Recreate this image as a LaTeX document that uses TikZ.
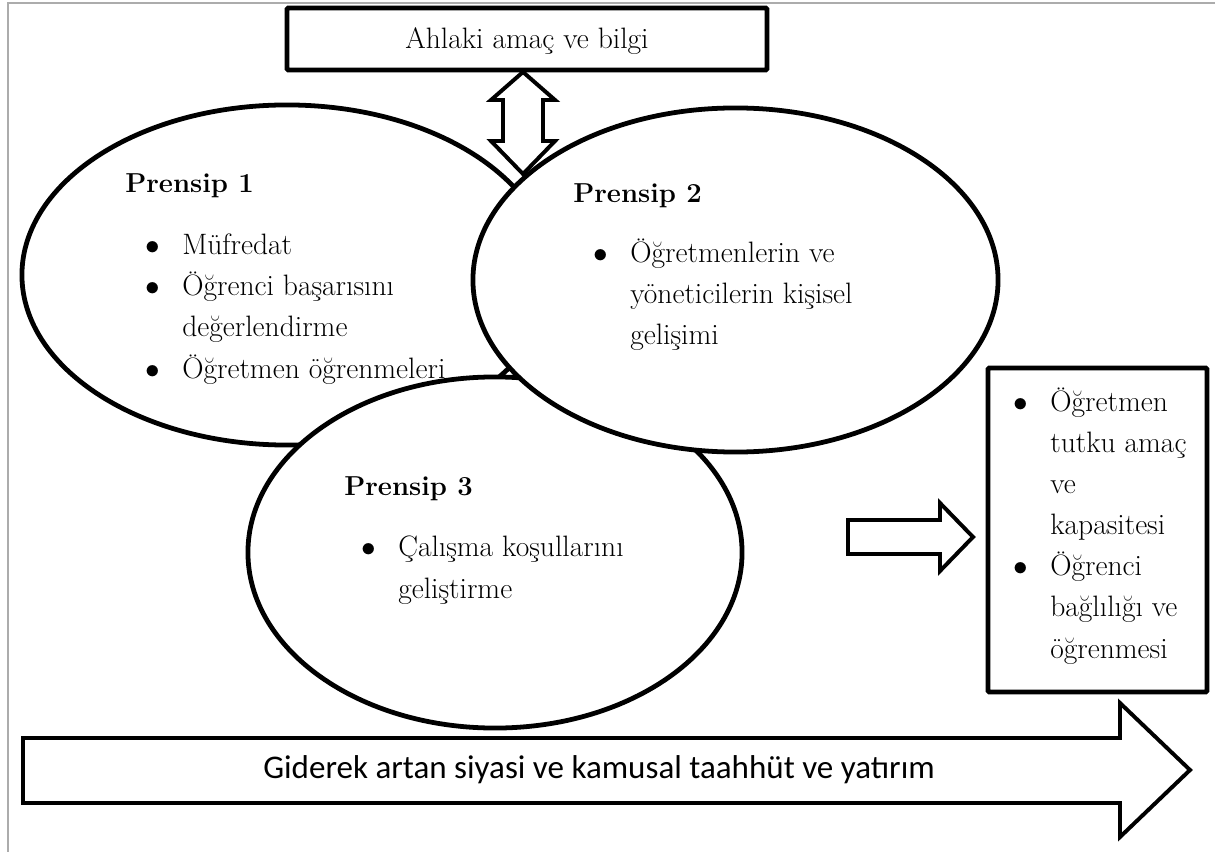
\documentclass[tikz,border=0pt]{standalone}
\usepackage{fontspec}
\newfontfamily\calibrifont{Carlito}
\usetikzlibrary{shapes.geometric}
\newcommand{\blt}{\llap{$\bullet$\hspace{0.75em}}}

\begin{document}
\begin{tikzpicture}[x=0.025cm,y=-0.025cm,
    every node/.style={font=\fontsize{21}{29.2}\selectfont},
    prensip/.style={ellipse,draw,fill=white,line width=3.4pt,inner sep=0pt},
    kutu/.style={rectangle,draw,line width=3.4pt,rounded corners=1pt,inner sep=0pt},
    blokok/.style={draw,fill=white,line width=2.8pt,line join=miter},
    liste/.style={anchor=base west,align=left,inner sep=0pt},
    baslik/.style={anchor=base west,inner sep=0pt,font=\fontsize{19.5}{29.2}\selectfont\bfseries}]
  \useasboundingbox (0,0) rectangle (1215,852);
  \draw[gray!65,line width=1.4pt] (8,852) -- (8,3) -- (1215,3);

  % the three principles
  \node[prensip,minimum width=13.25cm,minimum height=8.5cm] (p1) at (287,275) {};
  \node[prensip,minimum width=12.35cm,minimum height=8.775cm] (p3) at (495,552.5) {};
  \node[prensip,minimum width=13.125cm,minimum height=8.6cm] (p2) at (735.5,280) {};

  % moral purpose
  \node[kutu,minimum width=12cm,minimum height=1.55cm] (amac) at (527,39) {};
  \node[anchor=base,inner sep=0pt] (amactxt) at (527,49) {Ahlaki amaç ve bilgi};
  \draw[blokok] (523,72) -- (555,100) -- (543,100) -- (543,141) -- (555,141) -- (523,174)
    -- (491,141) -- (503,141) -- (503,100) -- (491,100) -- cycle;

  % last line baselines
  \node[baslik] (t1) at (125,193) {Prensip 1};
  \node[liste] (l1) at (182,378) {\blt Müfredat\\\blt Öğrenci başarısını\\değerlendirme\\\blt Öğretmen öğrenmeleri};
  \node[baslik] (t2) at (573,203) {Prensip 2};
  \node[liste] (l2) at (630,345) {\blt Öğretmenlerin ve\\yöneticilerin kişisel\\gelişimi};
  \node[baslik] (t3) at (344,495) {Prensip 3};
  \node[liste] (l3) at (398,598) {\blt Çalışma koşullarını\\geliştirme};

  % outcomes
  \node[kutu,minimum width=5.475cm,minimum height=8.1cm] (sonuc) at (1097.5,530) {};
  \node[liste] (l4) at (1050,658) {\blt Öğretmen\\tutku amaç\\ve\\kapasitesi\\\blt Öğrenci\\bağlılığı ve\\öğrenmesi};
  \draw[blokok] (848,520) -- (940,520) -- (940,503) -- (973,537) -- (940,571) -- (940,554) -- (848,554) -- cycle;

  % commitment and investment
  \draw[blokok] (23,738) -- (1120,738) -- (1120,703) -- (1190,770) -- (1120,837) -- (1120,803) -- (23,803) -- cycle;
  \node[font=\calibrifont\fontsize{23.5}{28}\selectfont] (taahhut) at (599,770) {Giderek artan siyasi ve kamusal taahhüt ve yatırım};
\end{tikzpicture}
\end{document}
